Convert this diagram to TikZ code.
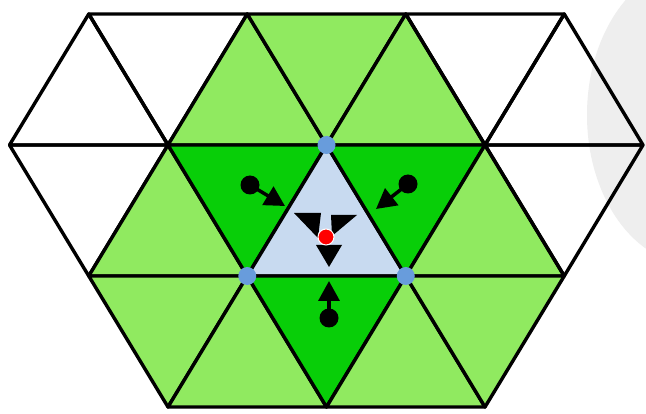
\documentclass[tikz,border=0pt]{standalone}
\usetikzlibrary{arrows.meta}
\definecolor{lgreen}{RGB}{144,234,96}
\definecolor{dgreen}{RGB}{8,206,8}
\definecolor{lblue}{RGB}{200,218,240}
\definecolor{vdot}{RGB}{104,156,220}
\definecolor{blob}{RGB}{238,238,238}
\begin{document}
\begin{tikzpicture}[x=1pt,y=-1pt,
  edge/.style={draw=black,line width=3.4pt,line join=round},
  wt/.style={edge},
  lg/.style={edge,fill=lgreen},
  dg/.style={edge,fill=dgreen},
  lb/.style={edge,fill=lblue},
  vert/.style={fill=vdot},
  flow/.style={line width=3.5pt,-{Triangle[length=20pt,width=21pt]}},
  head/.style={fill=black}]
\useasboundingbox (0,0) rectangle (646,414);
\fill[white] (0,0) rectangle (646,414);
\begin{scope}
  \clip (0,0) rectangle (646,414);
  \fill[blob] (695,115) ellipse [x radius=108, y radius=150];
\end{scope}
% lattice points
\coordinate (a0) at (88.75,14);  \coordinate (a1) at (247.25,14);
\coordinate (a2) at (405.75,14); \coordinate (a3) at (564.25,14);
\coordinate (b0) at (9.5,145);   \coordinate (b1) at (168,145);
\coordinate (b2) at (326.5,145); \coordinate (b3) at (485,145);
\coordinate (b4) at (643,145);
\coordinate (c0) at (88.75,276);  \coordinate (c1) at (247.25,276);
\coordinate (c2) at (405.75,276); \coordinate (c3) at (564.25,276);
\coordinate (d0) at (168,407);   \coordinate (d1) at (326.5,407);
\coordinate (d2) at (485,407);
% band 0
\path[wt] (a0) -- (b0) -- (b1) -- cycle;
\path[wt] (a0) -- (a1) -- (b1) -- cycle;
\path[lg] (a1) -- (b1) -- (b2) -- cycle;
\path[lg] (a1) -- (a2) -- (b2) -- cycle;
\path[lg] (a2) -- (b2) -- (b3) -- cycle;
\path[wt] (a2) -- (a3) -- (b3) -- cycle;
\path[wt] (a3) -- (b3) -- (b4) -- cycle;
% band 1
\path[wt] (b0) -- (b1) -- (c0) -- cycle;
\path[lg] (b1) -- (c0) -- (c1) -- cycle;
\path[dg] (b1) -- (b2) -- (c1) -- cycle;
\path[lb] (b2) -- (c1) -- (c2) -- cycle;
\path[dg] (b2) -- (b3) -- (c2) -- cycle;
\path[lg] (b3) -- (c2) -- (c3) -- cycle;
\path[wt] (b3) -- (b4) -- (c3) -- cycle;
% band 2
\path[lg] (c0) -- (c1) -- (d0) -- cycle;
\path[lg] (c1) -- (d0) -- (d1) -- cycle;
\path[dg] (c1) -- (c2) -- (d1) -- cycle;
\path[lg] (c2) -- (d1) -- (d2) -- cycle;
\path[lg] (c2) -- (c3) -- (d2) -- cycle;
% vertex markers
\fill[vert] (b2) circle (9);
\fill[vert] (c1) circle (9);
\fill[vert] (c2) circle (9);
% flow arrows
\coordinate (ls) at (250,185); \coordinate (le) at (285,206);
\coordinate (rs) at (408,184); \coordinate (re) at (376,209);
\coordinate (bs) at (329,318); \coordinate (be) at (329,281);
\fill (ls) circle (9.5); \draw[flow] (ls) -- (le);
\fill (rs) circle (9.5); \draw[flow] (rs) -- (re);
\fill (bs) circle (9.5); \draw[flow] (bs) -- (be);
% centre
\fill[head] (294,213) -- (321,213) -- (318,238) -- cycle;
\fill[head] (331,215) -- (357,215) -- (332,236) -- cycle;
\fill[head] (316,245) -- (342,245) -- (329,267) -- cycle;
\filldraw[fill=red,draw=white,line width=1pt] (326,237) circle (8);
\end{tikzpicture}
\end{document}
